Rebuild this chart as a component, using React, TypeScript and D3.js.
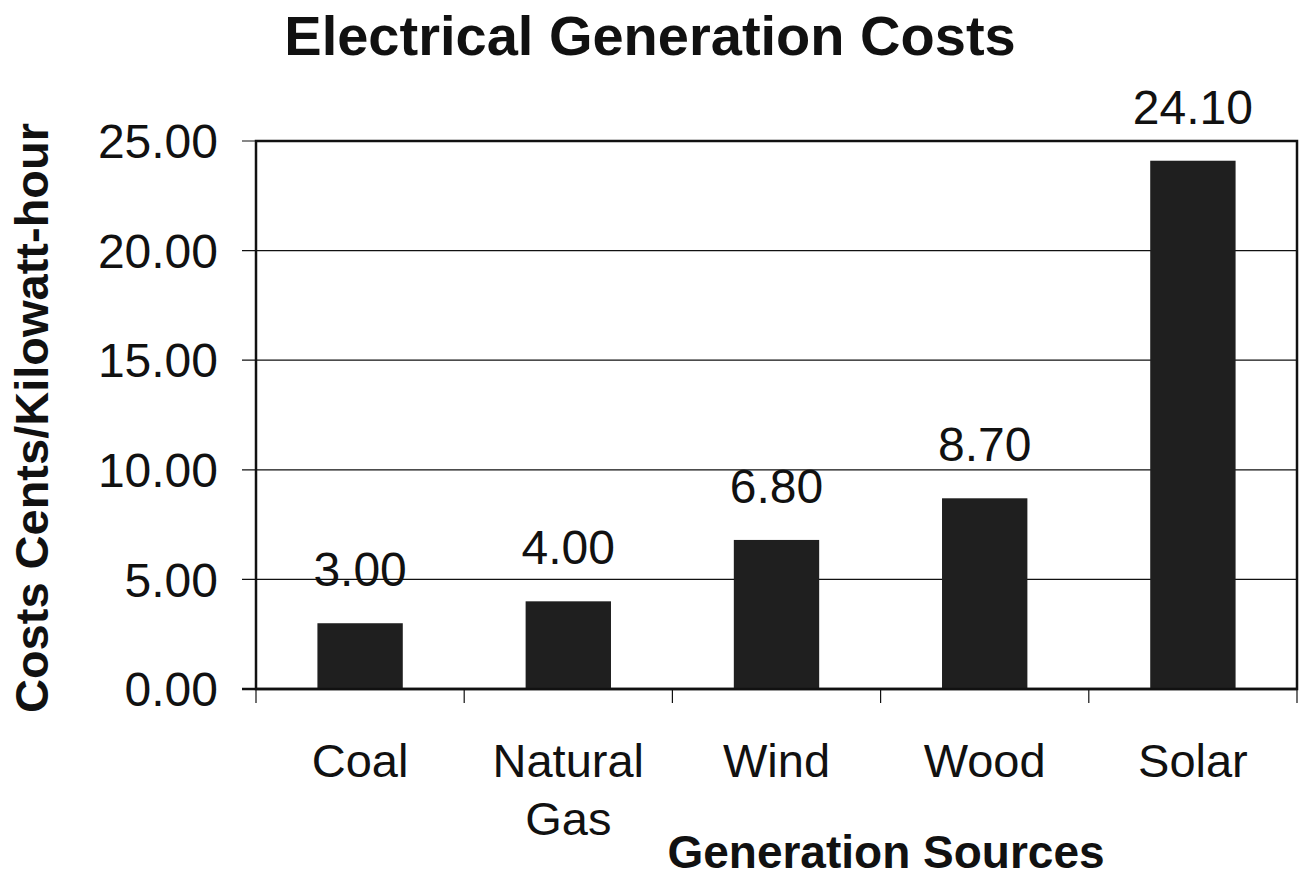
import * as d3 from 'd3';

const WIDTH = 1301;
const HEIGHT = 882;
const MARGIN = { top: 141, right: 4, bottom: 193, left: 256 };

const categories = ['Coal', 'Natural Gas', 'Wind', 'Wood', 'Solar'];
const costs = [3.0, 4.0, 6.8, 8.7, 24.1];
const yTicks = [0, 5, 10, 15, 20, 25];

const FONT = '"Liberation Sans", Arial, sans-serif';
const BAR_FRACTION = 0.41;

export default function App() {
  const boundsWidth = WIDTH - MARGIN.left - MARGIN.right;
  const boundsHeight = HEIGHT - MARGIN.top - MARGIN.bottom;

  const xScale = d3.scaleBand().domain(categories).range([0, boundsWidth]).padding(0);
  const yScale = d3.scaleLinear().domain([0, 25]).range([boundsHeight, 0]);

  const barW = xScale.bandwidth() * BAR_FRACTION;

  const bars = categories.map((c, i) => {
    const cx = (xScale(c) ?? 0) + xScale.bandwidth() / 2;
    const y = yScale(costs[i]);
    return (
      <g key={c}>
        <rect x={cx - barW / 2} y={y} width={barW} height={boundsHeight - y} fill="#1f1f1f" />
        <text x={cx} y={y - 37} textAnchor="middle" fontSize={48} fontFamily={FONT} fill="#111">
          {costs[i].toFixed(2)}
        </text>
      </g>
    );
  });

  const grid = yTicks.map((t) => (
    <g key={t}>
      <line x1={-14} x2={boundsWidth} y1={yScale(t)} y2={yScale(t)} stroke="#111" strokeWidth={t === 0 ? 2.5 : 1.2} />
      <text x={-38} y={yScale(t)} dy="0.36em" textAnchor="end" fontSize={48} fontFamily={FONT} fill="#111">
        {t.toFixed(2)}
      </text>
    </g>
  ));

  const xTicks = [...categories.map((c) => xScale(c) ?? 0), boundsWidth].map((x, i) => (
    <line key={i} x1={x} x2={x} y1={boundsHeight} y2={boundsHeight + 14} stroke="#111" strokeWidth={1.2} />
  ));

  const xLabels = categories.map((c) => {
    const cx = (xScale(c) ?? 0) + xScale.bandwidth() / 2;
    const words = c.split(' ');
    return (
      <text key={c} x={cx} y={boundsHeight + 88} textAnchor="middle" fontSize={47} fontFamily={FONT} fill="#111">
        {words.map((w, j) => (
          <tspan key={j} x={cx} dy={j === 0 ? 0 : 58}>{w}</tspan>
        ))}
      </text>
    );
  });

  return (
    <svg width={WIDTH} height={HEIGHT} style={{ position: 'absolute', left: 0, top: 0, background: '#fff' }}>
      <text x={650} y={55} textAnchor="middle" fontSize={56} fontWeight="bold" fontFamily={FONT} fill="#111">
        Electrical Generation Costs
      </text>
      <g transform={`translate(${MARGIN.left},${MARGIN.top})`}>
        {grid}
        {bars}
        <rect x={0} y={0} width={boundsWidth} height={boundsHeight} fill="none" stroke="#111" strokeWidth={2.5} />
        {xTicks}
        {xLabels}
      </g>
      <text x={886} y={868} textAnchor="middle" fontSize={46} fontWeight="bold" fontFamily={FONT} fill="#111">
        Generation Sources
      </text>
      <text
        transform={`translate(48,418) rotate(-90)`}
        textAnchor="middle"
        fontSize={47}
        fontWeight="bold"
        fontFamily={FONT}
        fill="#111"
      >
        Costs Cents/Kilowatt-hour
      </text>
    </svg>
  );
}
